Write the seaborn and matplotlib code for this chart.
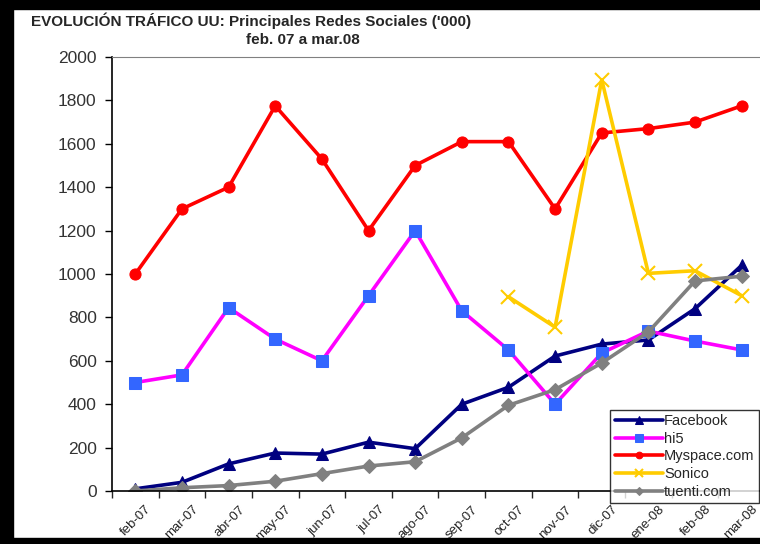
import numpy as np
import pandas as pd
import matplotlib
matplotlib.use('Agg')
import matplotlib.pyplot as plt
import matplotlib.transforms as mtransforms
import seaborn as sns
from matplotlib.patches import Rectangle

# data (thousands of unique users)
months = ['feb-07', 'mar-07', 'abr-07', 'may-07', 'jun-07', 'jul-07', 'ago-07',
          'sep-07', 'oct-07', 'nov-07', 'dic-07', 'ene-08', 'feb-08', 'mar-08']
facebook = [10, 40, 125, 175, 170, 225, 195, 400, 478, 622, 677, 696, 840, 1040]
hi5 = [500, 535, 845, 700, 600, 900, 1200, 830, 650, 400, 636, 737, 691, 650]
myspace = [1000, 1300, 1400, 1775, 1530, 1200, 1500, 1610, 1610, 1300, 1650, 1670, 1700, 1775]
sonico = [np.nan] * 8 + [895, 755, 1895, 1003, 1015, 900]
tuenti = [0, 15, 25, 45, 80, 115, 135, 245, 395, 467, 590, 733, 968, 990]

series = {'Facebook': facebook, 'hi5': hi5, 'Myspace.com': myspace,
          'Sonico': sonico, 'tuenti.com': tuenti}
styles = {
    'Facebook': dict(color='#000080', marker='^', markerfacecolor='#000080', markeredgecolor='#000080', markersize=9),
    'hi5': dict(color='#FF00FF', marker='s', markerfacecolor='#3366FF', markeredgecolor='#3366FF', markersize=9),
    'Myspace.com': dict(color='#FF0000', marker='o', markerfacecolor='#FF0000', markeredgecolor='#FF0000', markersize=8),
    'Sonico': dict(color='#FFCC00', marker='x', markerfacecolor='#FFCC00', markeredgecolor='#FFCC00', markersize=10, markeredgewidth=1.5),
    'tuenti.com': dict(color='#808080', marker='D', markerfacecolor='#808080', markeredgecolor='#808080', markersize=7),
}

sns.set_style('white')
plt.rcParams['font.family'] = ['Liberation Sans', 'DejaVu Sans']

fig = plt.figure(figsize=(7.6, 5.44), dpi=100)
ax = fig.add_axes([112 / 760, 1 - 491 / 544, (765 - 112) / 760, (491 - 57) / 544])

x = np.arange(len(months))
for name, vals in series.items():
    d = pd.DataFrame({'x': x, 'y': vals}).dropna()
    sns.lineplot(data=d, x='x', y='y', ax=ax, label=name, linewidth=2.6, **styles[name])

ax.set_xlim(-0.5, len(months) - 0.5)
ax.set_ylim(0, 2000)
ax.set_yticks(range(0, 2001, 200))
ax.tick_params(axis='y', labelsize=12.5, colors='black', direction='out', length=5, width=1, left=True, pad=6)
ax.set_yticklabels([str(v) for v in range(0, 2001, 200)], color='#333333')
ax.set_xticks(x)
ax.set_xticklabels(months, rotation=45, ha='right', rotation_mode='anchor', fontsize=9.5, color='#222222')
ax.tick_params(axis='x', which='major', length=0, pad=9)
ax.set_xticks(np.arange(-0.5, len(months), 1), minor=True)
ax.tick_params(axis='x', which='minor', direction='out', length=5, width=1, bottom=True)
shift = mtransforms.ScaledTranslation(10 / 100, 0, fig.dpi_scale_trans)
for lbl in ax.get_xticklabels():
    lbl.set_transform(lbl.get_transform() + shift)
ax.set_xlabel('')
ax.set_ylabel('')

for s in ['left', 'bottom']:
    ax.spines[s].set_color('black')
    ax.spines[s].set_linewidth(1.2)
ax.spines['top'].set_color('#808080')
ax.spines['right'].set_visible(False)

leg = ax.legend(loc='lower right', bbox_to_anchor=(759 / 760, 1 - 503 / 544),
                bbox_transform=fig.transFigure, frameon=True, fancybox=False,
                fontsize=10.5, handlelength=3.3, handletextpad=0.1, borderpad=0.3,
                labelspacing=0.25, borderaxespad=0, markerscale=0.6)
leg.get_frame().set_edgecolor('black')
leg.get_frame().set_linewidth(1)

fig.text(251 / 760, 1 - 21 / 544, "EVOLUCIÓN TRÁFICO UU: Principales Redes Sociales ('000)",
         ha='center', va='center', fontsize=11, fontweight='bold')
fig.text(303 / 760, 1 - 40 / 544, 'feb. 07 a mar.08',
         ha='center', va='center', fontsize=11, fontweight='bold')

# black frame of the original screenshot
fig.patches.append(Rectangle((0, 1 - 9 / 544), 1, 9 / 544, transform=fig.transFigure, color='black'))
fig.patches.append(Rectangle((0, 0), 13 / 760, 1, transform=fig.transFigure, color='black'))
fig.patches.append(Rectangle((0, 0), 1, 6 / 544, transform=fig.transFigure, color='black'))

fig.savefig('out.png', dpi=100)
